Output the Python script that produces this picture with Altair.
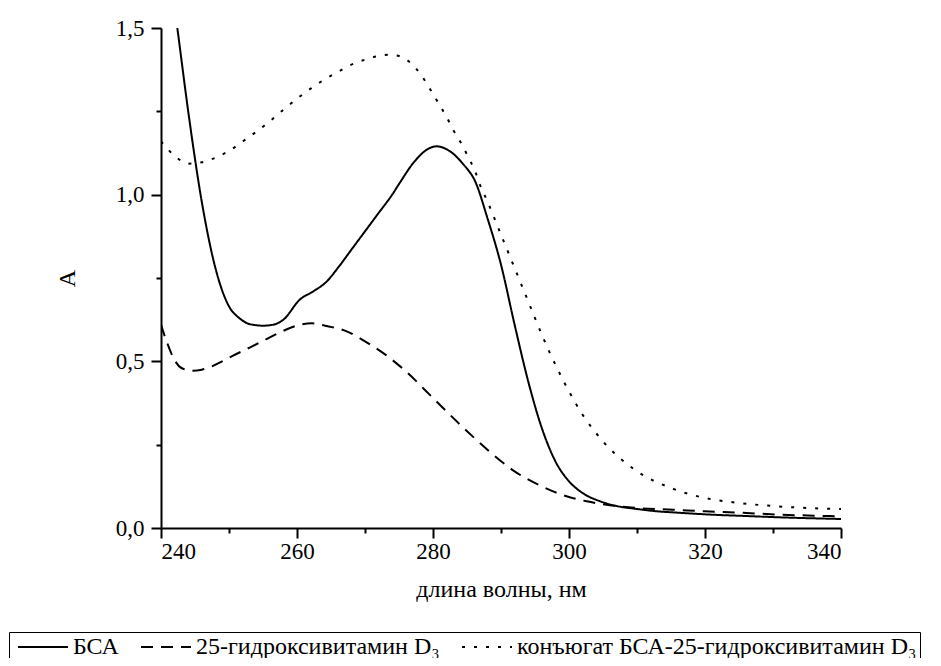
import altair as alt
import pandas as pd

FONT = "Liberation Serif"

series_names = ["БСА", "25-гидроксивитамин D₃", "конъюгат БСА-25-гидроксивитамин D₃"]

bsa_nm = [240, 242.4, 244, 246.2, 248, 250, 251.5, 253, 255, 256.5, 258, 260.4, 262.4, 264.4,
          266, 268, 270, 272, 274, 275.1, 277.1, 279.1, 280.5, 282.5, 284.5, 286.2, 288, 290,
          292, 294, 296, 298, 300, 302, 304.6, 307, 310, 313, 316, 321, 326, 331, 336, 340]
bsa_a = [1.85, 1.5, 1.25, 0.955, 0.78, 0.665, 0.63, 0.612, 0.607, 0.61, 0.625, 0.685, 0.71, 0.74,
         0.78, 0.835, 0.89, 0.945, 1.0, 1.035, 1.095, 1.135, 1.145, 1.13, 1.09, 1.04, 0.93, 0.79,
         0.61, 0.44, 0.30, 0.20, 0.14, 0.105, 0.08, 0.066, 0.057, 0.05, 0.046, 0.04, 0.036, 0.032, 0.029, 0.027]

vit_nm = [240, 241, 242.1, 243, 244.5, 246, 247.5, 249, 250.6, 252.6, 254.1, 257.5, 260.7, 262.2,
          264.1, 267.3, 270, 273, 276, 280, 284, 288, 292, 296, 300, 302.6, 306, 310, 315.3, 320,
          325, 331, 336, 340]
vit_a = [0.61, 0.55, 0.5, 0.48, 0.472, 0.475, 0.485, 0.5, 0.517, 0.537, 0.552, 0.587, 0.611, 0.614,
         0.607, 0.59, 0.56, 0.52, 0.47, 0.39, 0.31, 0.235, 0.17, 0.125, 0.093, 0.08, 0.068, 0.06,
         0.055, 0.05, 0.046, 0.04, 0.037, 0.035]

conj_nm = [240, 242.1, 244, 246, 247.9, 249.9, 251.9, 254.1, 256, 258, 260, 262, 264, 266, 268,
           270, 272, 273.5, 275, 276, 277, 278, 279, 280, 281, 282, 283, 284.2, 285.2, 286.2, 286.9,
           288, 290, 292, 294, 296, 298, 300, 302, 305, 310, 315, 320, 325, 330, 335, 340]
conj_a = [1.16, 1.115, 1.093, 1.097, 1.11, 1.13, 1.158, 1.19, 1.22, 1.255, 1.288, 1.318, 1.345,
          1.368, 1.39, 1.405, 1.416, 1.42, 1.416, 1.406, 1.39, 1.366, 1.336, 1.302, 1.268, 1.233,
          1.193, 1.152, 1.112, 1.07, 1.03, 0.98, 0.88, 0.78, 0.68, 0.58, 0.49, 0.41, 0.34, 0.26,
          0.17, 0.12, 0.09, 0.075, 0.066, 0.06, 0.057]

x_major = [240, 260, 280, 300, 320, 340]
x_minor = [250, 270, 290, 310, 330]
y_major = [0, 0.5, 1.0, 1.5]
y_minor = [0.25, 0.75, 1.25]

rows = []
for name, xs, ys in zip(series_names, [bsa_nm, vit_nm, conj_nm], [bsa_a, vit_a, conj_a]):
    for xv, yv in zip(xs, ys):
        rows.append({"nm": xv, "A": yv, "series": name})
df = pd.DataFrame(rows)

x_scale = alt.Scale(domain=[240, 340], nice=False, zero=False)
y_scale = alt.Scale(domain=[0, 1.5], nice=False)

common = dict(labelFont=FONT, titleFont=FONT, labelFontSize=23, titleFontSize=24,
              labelColor="black", titleColor="black", titleFontWeight="normal",
              domainColor="black", domainWidth=2, ticks=True, tickColor="black",
              tickWidth=2, tickOpacity=1, grid=False)

lines = alt.Chart(df).mark_line(
    color="black", strokeWidth=2, clip=True, interpolate="monotone"
).encode(
    x=alt.X("nm:Q", scale=x_scale,
            axis=alt.Axis(title="длина волны, нм", values=x_major, orient="bottom",
                          tickSize=10, labelPadding=2, titlePadding=14, **common)),
    y=alt.Y("A:Q", scale=y_scale,
            axis=alt.Axis(title="A", values=y_major, orient="left",
                          labelExpr="replace(format(datum.value, '.1f'), '.', ',')",
                          tickSize=10, labelPadding=7, titlePadding=36, **common)),
    strokeDash=alt.StrokeDash("series:N",
                              scale=alt.Scale(domain=series_names, range=[[1, 0], [12, 8], [3, 9]]),
                              legend=alt.Legend(title=None, orient="none", legendX=-152, legendY=604,
                                                direction="horizontal",
                                                symbolType="M-0.6,0H4.4", symbolSize=400,
                                                symbolStrokeWidth=2, symbolStrokeColor="black",
                                                symbolFillColor="transparent",
                                                labelFont=FONT, labelFontSize=24, labelColor="black",
                                                labelOffset=37, columnPadding=16, padding=3,
                                                strokeColor="black", labelLimit=0)),
)

minor = alt.Chart(df).mark_line(opacity=0, clip=True).encode(
    x=alt.X("nm:Q", scale=x_scale,
            axis=alt.Axis(title=None, values=x_minor, orient="bottom", tickSize=5,
                          labels=False, domain=False, ticks=True, tickColor="black",
                          tickWidth=2, tickOpacity=1, grid=False)),
    y=alt.Y("A:Q", scale=y_scale,
            axis=alt.Axis(title=None, values=y_minor, orient="left", tickSize=5,
                          labels=False, domain=False, ticks=True, tickColor="black",
                          tickWidth=2, tickOpacity=1, grid=False)),
    detail="series:N",
)

chart = alt.layer(lines, minor).resolve_axis(x="independent", y="independent").properties(
    width=680, height=500,
    autosize=alt.AutoSizeParams(type="none"),
    padding={"left": 153, "top": 20, "right": 92, "bottom": 130},
).configure_view(stroke=None)

chart.save("out.html", embed_options={"renderer": "svg", "actions": False})
